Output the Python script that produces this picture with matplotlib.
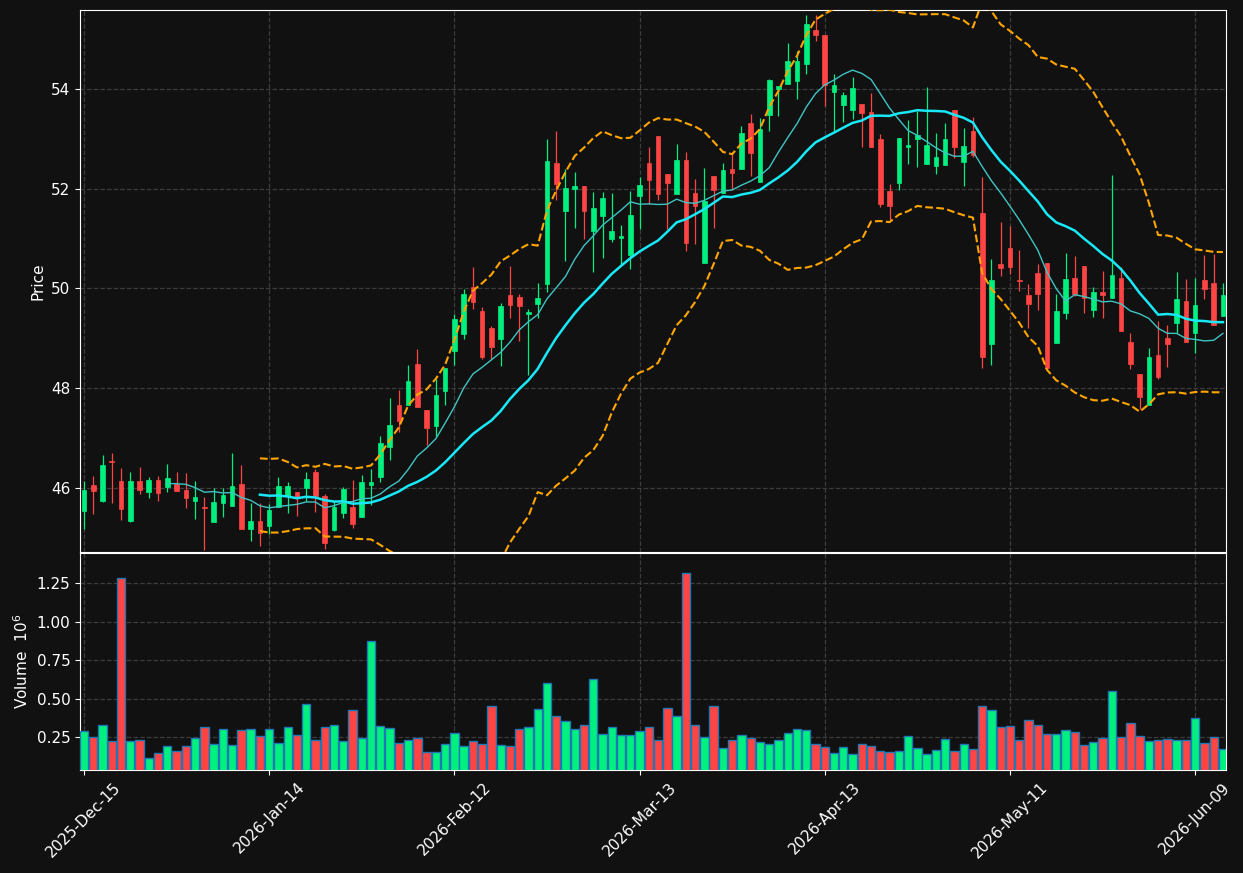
import matplotlib.pyplot as plt
import numpy as np
import pandas as pd

# daily OHLC (124 trading days)
opens = [45.55, 46.07, 45.75, 46.55, 46.15, 45.35, 46.15, 45.93, 46.17, 46.03,
         46.09, 45.97, 45.75, 45.62, 45.33, 45.71, 45.65, 46.09, 45.19, 45.34,
         45.24, 45.63, 45.85, 45.93, 46.01, 46.33, 45.85, 45.17, 45.51, 45.62,
         45.43, 46.07, 46.22, 46.82, 47.66, 47.66, 48.49, 47.56, 47.24, 47.95,
         48.74, 49.08, 50.03, 49.55, 49.20, 48.98, 49.87, 49.83, 49.48, 49.69,
         50.09, 52.52, 51.56, 52.00, 52.05, 51.16, 51.46, 51.00, 51.02, 50.67,
         51.85, 52.51, 53.06, 52.30, 51.89, 52.57, 51.91, 50.52, 52.25, 51.91,
         52.39, 52.39, 53.32, 52.13, 53.48, 54.00, 54.09, 54.15, 54.49, 55.18,
         55.08, 53.93, 53.68, 53.58, 53.70, 53.54, 53.00, 51.95, 52.11, 52.83,
         53.00, 52.49, 52.45, 52.47, 53.58, 52.53, 53.16, 51.51, 48.89, 50.49,
         50.82, 50.18, 49.86, 50.32, 50.52, 48.91, 49.51, 50.22, 50.46, 49.56,
         49.92, 49.80, 50.22, 48.92, 48.28, 47.66, 48.66, 49.00, 49.30, 49.74,
         49.10, 50.18, 50.10, 49.44]
highs = [46.15, 46.24, 46.67, 46.71, 46.40, 46.32, 46.42, 46.22, 46.25, 46.49,
         46.33, 46.30, 46.15, 45.82, 46.00, 46.00, 46.71, 46.47, 45.70, 45.70,
         45.68, 46.22, 46.12, 45.93, 46.32, 46.39, 45.88, 45.74, 46.03, 46.16,
         46.26, 46.38, 47.04, 47.80, 47.96, 48.46, 48.78, 47.56, 48.18, 48.41,
         49.49, 49.98, 50.43, 49.62, 49.24, 49.70, 50.46, 49.88, 49.58, 50.10,
         52.99, 53.15, 52.40, 52.33, 52.05, 51.93, 51.93, 51.91, 51.28, 51.95,
         52.24, 52.83, 53.06, 52.30, 52.89, 52.74, 52.20, 52.42, 52.25, 52.51,
         52.74, 53.25, 53.49, 53.41, 54.20, 54.05, 54.92, 54.75, 55.48, 55.48,
         55.08, 54.29, 53.94, 54.23, 53.70, 53.92, 53.10, 52.09, 53.02, 53.38,
         53.56, 54.04, 53.11, 53.31, 53.58, 53.22, 53.44, 52.24, 50.59, 51.34,
         51.26, 50.78, 50.08, 50.49, 50.52, 49.88, 50.72, 50.65, 50.46, 50.02,
         50.36, 52.27, 50.44, 49.10, 48.28, 48.80, 49.34, 49.26, 50.34, 50.20,
         50.22, 50.68, 50.70, 50.10]
lows = [45.19, 45.49, 45.73, 45.71, 45.37, 45.33, 45.88, 45.81, 45.74, 45.93,
        45.95, 45.60, 45.39, 44.77, 45.33, 45.43, 45.65, 45.19, 44.94, 44.84,
        45.08, 45.63, 45.50, 45.44, 45.74, 45.52, 44.78, 45.15, 45.41, 45.21,
        45.43, 45.66, 46.13, 46.56, 47.12, 47.66, 47.63, 46.86, 47.02, 47.67,
        48.46, 48.98, 49.59, 48.58, 48.58, 48.45, 49.40, 48.94, 48.27, 49.40,
        49.93, 51.78, 50.56, 51.22, 51.00, 50.34, 50.62, 50.94, 50.50, 50.40,
        51.19, 51.70, 51.78, 51.19, 51.89, 50.75, 50.89, 50.52, 51.21, 51.91,
        51.97, 52.39, 52.25, 52.13, 53.15, 53.45, 54.09, 53.80, 54.30, 54.96,
        53.66, 53.14, 53.34, 53.40, 52.83, 52.83, 51.64, 51.36, 51.97, 52.50,
        52.44, 52.49, 52.30, 52.47, 52.61, 52.06, 52.63, 48.40, 48.46, 50.26,
        50.29, 49.94, 49.21, 49.57, 48.41, 48.91, 49.39, 49.84, 49.51, 49.42,
        49.41, 49.80, 49.14, 48.38, 47.58, 47.66, 48.18, 48.42, 49.10, 48.92,
        48.70, 49.78, 49.26, 49.44]
closes = [45.97, 45.95, 46.47, 46.52, 45.59, 46.15, 45.97, 46.17, 45.91, 46.21,
          45.95, 45.81, 45.82, 45.60, 45.72, 45.87, 46.05, 45.19, 45.34, 45.10,
          45.56, 46.05, 46.05, 45.83, 46.19, 45.85, 44.90, 45.62, 45.99, 45.28,
          46.13, 46.13, 46.91, 47.26, 47.34, 48.15, 47.63, 47.21, 47.86, 48.41,
          49.38, 49.89, 49.73, 48.62, 48.82, 49.65, 49.67, 49.65, 49.53, 49.81,
          52.56, 52.10, 52.01, 52.05, 51.56, 51.61, 51.81, 51.15, 51.05, 51.47,
          52.07, 52.17, 51.89, 52.11, 52.57, 50.92, 51.66, 51.76, 51.98, 52.37,
          52.32, 53.12, 52.71, 53.20, 54.17, 54.05, 54.55, 54.55, 55.30, 55.08,
          54.07, 54.08, 53.88, 54.02, 53.52, 52.83, 51.70, 51.66, 53.02, 52.87,
          53.08, 52.87, 52.63, 53.00, 52.83, 52.85, 52.67, 48.62, 50.17, 50.42,
          50.43, 50.14, 49.68, 49.88, 48.41, 49.54, 50.20, 49.88, 49.80, 49.92,
          49.86, 50.28, 49.14, 48.48, 47.82, 48.62, 48.22, 48.88, 49.78, 48.92,
          49.66, 49.98, 49.26, 49.86]
# volume in millions
volumes = [0.287, 0.248, 0.326, 0.222, 1.280, 0.222, 0.229, 0.112, 0.144, 0.190,
           0.157, 0.190, 0.242, 0.313, 0.203, 0.300, 0.196, 0.293, 0.300, 0.255,
           0.300, 0.209, 0.313, 0.261, 0.462, 0.229, 0.313, 0.326, 0.222, 0.423,
           0.242, 0.871, 0.319, 0.306, 0.209, 0.229, 0.242, 0.151, 0.151, 0.203,
           0.274, 0.190, 0.222, 0.203, 0.449, 0.196, 0.190, 0.300, 0.313, 0.430,
           0.599, 0.384, 0.352, 0.300, 0.326, 0.625, 0.268, 0.313, 0.261, 0.261,
           0.287, 0.313, 0.229, 0.436, 0.384, 1.313, 0.326, 0.248, 0.449, 0.177,
           0.229, 0.261, 0.242, 0.216, 0.203, 0.229, 0.274, 0.300, 0.293, 0.203,
           0.183, 0.144, 0.183, 0.138, 0.203, 0.190, 0.157, 0.151, 0.157, 0.255,
           0.177, 0.138, 0.164, 0.235, 0.157, 0.203, 0.170, 0.449, 0.423, 0.313,
           0.319, 0.229, 0.358, 0.326, 0.268, 0.268, 0.293, 0.281, 0.196, 0.216,
           0.242, 0.547, 0.248, 0.339, 0.255, 0.222, 0.229, 0.235, 0.229, 0.229,
           0.371, 0.209, 0.248, 0.170]

holidays = ['2025-12-25', '2026-01-01', '2026-01-19', '2026-02-16', '2026-04-03', '2026-05-25']
dates = pd.bdate_range('2025-12-15', '2026-07-31', freq='C', holidays=holidays)[:len(closes)]

bg = '#111111'
up_col = '#00f080'
down_col = '#ff4444'

o = np.array(opens)
c = np.array(closes)
x = np.arange(len(c))
is_up = c >= o
colors = np.where(is_up, up_col, down_col)

close_s = pd.Series(closes)
ma10 = close_s.rolling(10).mean()
ma20 = close_s.rolling(20).mean()
sd20 = close_s.rolling(20).std(ddof=0)
upper = ma20 + 2 * sd20
lower = ma20 - 2 * sd20

fig = plt.figure(figsize=(12.43, 8.73), dpi=100, facecolor=bg)
W, H = 1243, 873
ax1 = fig.add_axes([80 / W, 1 - 552 / H, 1146 / W, 542 / H])
ax2 = fig.add_axes([80 / W, 1 - 770 / H, 1146 / W, 217 / H], sharex=ax1)

# candles
ax1.vlines(x, lows, highs, colors=colors, linewidth=0.9, zorder=2)
body_h = np.maximum(np.abs(c - o), 0.02)
ax1.bar(x, body_h, bottom=np.minimum(o, c), width=0.5, color=colors,
        edgecolor=colors, linewidth=0.5, zorder=3)

ax1.plot(x, ma10, color='#3fc4c4', linewidth=1.0, zorder=4)
ax1.plot(x, ma20, color='#18e8f8', linewidth=1.8, zorder=4)
ax1.plot(x, upper, color='#ffa500', linestyle='--', linewidth=1.5, zorder=4)
ax1.plot(x, lower, color='#ffa500', linestyle='--', linewidth=1.5, zorder=4)

ax2.bar(x, volumes, width=0.9, color=colors, edgecolor='#1f77b4', linewidth=1.0, zorder=3)

ax1.set_ylim(44.72, 55.58)
ax2.set_ylim(0.036, 1.445)
ax1.set_xlim(-0.43, 123.33)
ax1.set_yticks([46, 48, 50, 52, 54])
ax2.set_yticks([0.25, 0.5, 0.75, 1.0, 1.25])
ax2.set_yticklabels(['0.25', '0.50', '0.75', '1.00', '1.25'])

tick_pos = x[::20]
ax2.set_xticks(tick_pos)
ax2.set_xticklabels(dates[::20].strftime('%Y-%b-%d'), rotation=45, ha='center')
plt.setp(ax1.get_xticklabels(), visible=False)

ax1.set_ylabel('Price', color='white', fontsize=11)
ax2.set_ylabel('Volume  $10^6$', color='white', fontsize=11)

for ax in (ax1, ax2):
    ax.set_facecolor(bg)
    ax.grid(True, linestyle='--', color='#3c3c3c', linewidth=0.9)
    ax.set_axisbelow(True)
    ax.tick_params(colors='white', labelsize=11)
    for sp in ax.spines.values():
        sp.set_color('white')

fig.savefig('out.png', dpi=100, facecolor=bg)
